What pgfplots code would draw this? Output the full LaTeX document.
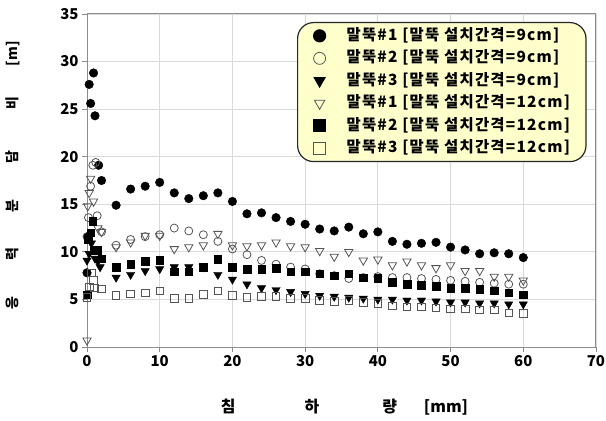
\documentclass[border=0pt]{standalone}
\usepackage{fontspec}
\setmainfont{Noto Sans CJK KR}
\usepackage{pgfplots}
\pgfplotsset{compat=1.18}
\definecolor{legfill}{HTML}{FFFFCC}
\definecolor{gridc}{HTML}{DADADA}
\definecolor{framec}{HTML}{8C8C8C}
\definecolor{openc}{HTML}{555555}

\pgfplotstableread{
x y
0 7.8
0.1 11.6
0.3 27.6
0.5 25.6
0.9 28.8
1.1 24.3
1.6 19.1
2 17.5
4 14.9
6 16.6
8 16.9
10 17.3
12 16.2
14 15.6
16 15.9
18 16.2
20 15.3
22 14.0
24 14.1
26 13.6
28 13.2
30 12.9
32 12.4
34 12.2
36 12.6
38 11.9
40 12.1
42 11.1
44 10.8
46 10.9
48 11.0
50 10.5
52 10.2
54 9.8
56 9.9
58 9.8
60 9.4
}\sA

\pgfplotstableread{
x y
0 11.6
0.2 13.6
0.5 16.9
0.8 19.1
1.2 19.4
1.4 13.8
2 12.1
4 10.7
6 11.3
8 11.6
10 11.8
12 12.5
14 12.2
16 11.8
18 11.1
20 10.3
22 9.7
24 9.1
26 8.7
28 8.4
30 8.2
32 7.7
34 7.5
36 7.2
38 7.3
40 7.4
42 7.3
44 7.3
46 7.2
48 7.1
50 7.0
52 6.9
54 6.8
56 6.7
58 6.6
60 6.6
}\sB

\pgfplotstableread{
x y
0 9.1
0.3 9.8
0.6 10.9
1.1 9.3
1.5 9.0
1.8 8.4
4 7.3
6 7.6
8 8.0
10 8.2
12 8.4
14 8.4
16 8.4
18 7.6
20 7.1
22 6.6
24 6.2
26 6.0
28 5.8
30 5.6
32 5.4
34 5.3
36 5.2
38 5.1
40 5.0
42 5.0
44 4.9
46 4.9
48 4.8
50 4.7
52 4.7
54 4.6
56 4.6
58 4.5
60 4.5
}\sC

\pgfplotstableread{
x y
0 0.7
0.1 14.8
0.3 16.2
0.5 17.7
0.9 15.3
1.5 12.5
2 12.1
4 10.5
6 11.0
8 11.7
10 11.7
12 10.3
14 10.5
16 10.7
18 11.9
20 10.7
22 10.6
24 10.7
26 11.0
28 10.6
30 10.5
32 10.1
34 9.5
36 10.0
38 9.1
40 9.2
42 8.6
44 9.0
46 8.6
48 8.3
50 8.6
52 8.0
54 8.0
56 7.4
58 7.4
60 7.0
}\sD

\pgfplotstableread{
x y
0 5.5
0.2 11.3
0.5 12.0
0.8 13.2
1.0 10.2
1.4 10.2
2 9.3
4 8.4
6 8.7
8 9.0
10 9.1
12 7.9
14 7.9
16 8.4
18 9.2
20 8.4
22 8.2
24 8.2
26 8.3
28 7.9
30 7.9
32 7.7
34 7.5
36 7.7
38 7.3
40 7.2
42 6.8
44 6.6
46 6.5
48 6.4
50 6.2
52 6.2
54 6.1
56 5.9
58 5.7
60 5.5
}\sE

\pgfplotstableread{
x y
0 5.2
0.3 6.3
0.6 7.8
0.9 7.0
1.0 6.2
2 6.1
4 5.4
6 5.6
8 5.7
10 5.9
12 5.1
14 5.1
16 5.5
18 5.9
20 5.4
22 5.2
24 5.3
26 5.3
28 5.1
30 5.1
32 4.9
34 4.8
36 4.9
38 4.7
40 4.6
42 4.3
44 4.2
46 4.2
48 4.1
50 4.0
52 4.0
54 3.9
56 3.9
58 3.6
60 3.5
}\sF

\begin{document}
\begin{tikzpicture}
\path[use as bounding box] (0,0) rectangle (606bp,421bp);
\begin{axis}[
  at={(87bp,74bp)}, anchor=south west,
  width=509bp, height=333bp, scale only axis,
  xmin=0, xmax=70, ymin=0, ymax=35,
  xtick={0,10,...,70}, ytick={0,5,...,35},
  grid=major, major grid style={gridc, line width=0.8bp},
  axis line style={framec, line width=1bp},
  tick style={framec, line width=0.8bp},
  tick align=outside, major tick length=5bp,
  xtick pos=bottom, ytick pos=left,
  /pgf/number format/assume math mode=true,
  ticklabel style={font=\fontsize{15}{18}\selectfont\bfseries},
  xlabel={침\hspace{69bp}하\hspace{63bp}량\hspace{27bp}[mm]},
  xlabel style={at={(axis description cs:0.506,-0.18)}, anchor=center, font=\fontsize{16}{19}\selectfont\bfseries},
  ylabel={응\hspace{36bp}력\hspace{35bp}분\hspace{36bp}담\hspace{41bp}비\hspace{31bp}[m]},
  ylabel style={at={(axis description cs:-0.145,0.516)}, anchor=center, font=\fontsize{14}{17}\selectfont\bfseries},
  legend style={
    at={(axis description cs:0.4126,0.976)}, anchor=north west,
    fill=legfill, draw=black!85, line width=1.2bp, rounded corners=16bp,
    inner xsep=16bp, inner ysep=2bp,
    row sep=0pt,
    font=\fontsize{15.5}{18}\selectfont\bfseries\addfontfeature{LetterSpace=8},
    nodes={inner xsep=0pt, inner ysep=1.5bp, text height=14bp, text depth=5.5bp},
    /tikz/every odd column/.append style={column sep=21bp},
  },
  legend cell align=left,
  legend image code/.code={\draw[sharp corners, mark repeat=2, mark phase=2, #1, mark size=6bp] plot coordinates {(0bp,0bp) (8bp,0bp) (16bp,0bp)};},
]
\addplot[only marks, mark=*, mark size=4.3bp, black] table {\sA};
\addlegendentry{말뚝\#1 [말뚝 설치간격=9cm]}
\addplot[only marks, mark=o, mark size=4bp, openc, mark options={line width=0.8bp}] table {\sB};
\addlegendentry{말뚝\#2 [말뚝 설치간격=9cm]}
\addplot[only marks, mark=triangle*, mark size=4.8bp, black, mark options={rotate=180}] table {\sC};
\addlegendentry{말뚝\#3 [말뚝 설치간격=9cm]}
\addplot[only marks, mark=triangle, mark size=4.8bp, openc, mark options={rotate=180, line width=0.8bp}] table {\sD};
\addlegendentry{말뚝\#1 [말뚝 설치간격=12cm]}
\addplot[only marks, mark=square*, mark size=3.8bp, black] table {\sE};
\addlegendentry{말뚝\#2 [말뚝 설치간격=12cm]}
\addplot[only marks, mark=square, mark size=3.8bp, openc, mark options={line width=0.8bp}] table {\sF};
\addlegendentry{말뚝\#3 [말뚝 설치간격=12cm]}
\end{axis}
\end{tikzpicture}
\end{document}
